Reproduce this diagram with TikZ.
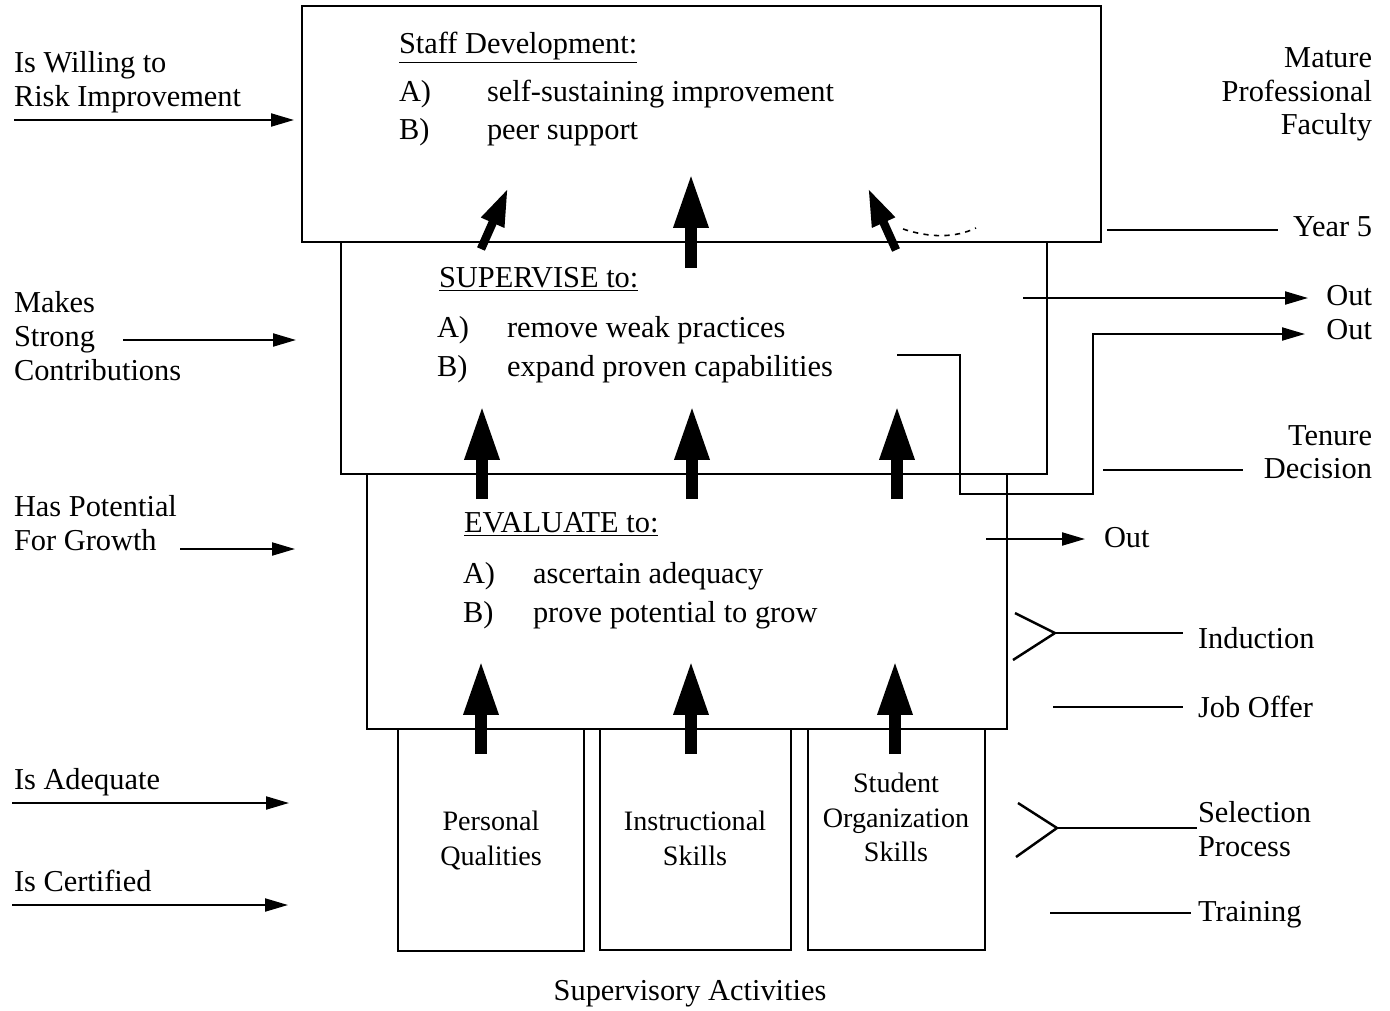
\documentclass[tikz,border=0pt]{standalone}
\usepackage{fontspec}
\setmainfont{Liberation Serif}
\usetikzlibrary{arrows.meta,fit}
\begin{document}
\begin{tikzpicture}[x=0.02cm,y=-0.02cm,
  txt/.style={font=\fontsize{17.3}{20}\selectfont, inner sep=0pt, outer sep=0pt},
  btxt/.style={font=\fontsize{16}{19}\selectfont, inner sep=0pt, outer sep=0pt},
  box/.style={draw, line width=0.8pt, inner sep=0pt, outer sep=0pt},
  bigarrow/.style={line width=0.24cm, -{Triangle[length=1.1cm,width=0.64cm]}},
  slantarrow/.style={line width=0.17cm, -{Triangle[length=0.76cm,width=0.46cm]}},
  thinarrow/.style={line width=1.2pt, -{Triangle[length=0.46cm,width=0.26cm]}},
  link/.style={line width=1.1pt},
  fork/.style={line width=1.4pt},
]
\useasboundingbox (0,0) rectangle (1390,1011);

% boxes
\node[box, fit={(302,6)(1101,242)}] (staff) {};
\node[box, fit={(341,242)(1047,474)}] (superv) {};
\node[box, fit={(367,474)(1007,729)}] (eval) {};
\node[box, fit={(398,729)(584,951)}] (pers) {};
\node[box, fit={(600,729)(791,950)}] (instr) {};
\node[box, fit={(808,729)(985,950)}] (stud) {};

% box texts
\node[txt, anchor=base west] (sdtitle) at (399,53) {\underline{Staff Development:}};
\node[txt, anchor=base west] (sda) at (399,101) {A)};
\node[txt, anchor=base west] (sdat) at (487,101) {self-sustaining improvement};
\node[txt, anchor=base west] (sdb) at (399,139) {B)};
\node[txt, anchor=base west] (sdbt) at (487,139) {peer support};

\node[txt, anchor=base west] (svtitle) at (439,287) {\underline{SUPERVISE to:}};
\node[txt, anchor=base west] (sva) at (437,337) {A)};
\node[txt, anchor=base west] (svat) at (507,337) {remove weak practices};
\node[txt, anchor=base west] (svb) at (437,376) {B)};
\node[txt, anchor=base west] (svbt) at (507,376) {expand proven capabilities};

\node[txt, anchor=base west] (evtitle) at (464,532) {\underline{EVALUATE to:}};
\node[txt, anchor=base west] (eva) at (463,583) {A)};
\node[txt, anchor=base west] (evat) at (533,583) {ascertain adequacy};
\node[txt, anchor=base west] (evb) at (463,622) {B)};
\node[txt, anchor=base west] (evbt) at (533,622) {prove potential to grow};

\node[btxt, anchor=base] (pers1) at (491,830) {Personal};
\node[btxt, anchor=base] (pers2) at (491,865) {Qualities};
\node[btxt, anchor=base] (instr1) at (695,830) {Instructional};
\node[btxt, anchor=base] (instr2) at (695,865) {Skills};
\node[btxt, anchor=base] (stud1) at (896,792) {Student};
\node[btxt, anchor=base] (stud2) at (896,827) {Organization};
\node[btxt, anchor=base] (stud3) at (896,861) {Skills};
\node[txt, anchor=base] (supact) at (690,1000) {Supervisory Activities};

% thick arrows
\coordinate (s1a) at (481,249); \coordinate (s1b) at (508,188);
\coordinate (s2a) at (691,268); \coordinate (s2b) at (691,173);
\coordinate (s3a) at (896,250); \coordinate (s3b) at (868,188);
\draw[slantarrow] (s1a) -- (s1b);
\draw[bigarrow] (s2a) -- (s2b);
\draw[slantarrow] (s3a) -- (s3b);
\foreach \x [count=\i] in {482,692,897}{
  \coordinate (v\i a) at (\x,499); \coordinate (v\i b) at (\x,405);
  \draw[bigarrow] (v\i a) -- (v\i b);
}
\foreach \x [count=\i] in {481,691,895}{
  \coordinate (e\i a) at (\x,754); \coordinate (e\i b) at (\x,660);
  \draw[bigarrow] (e\i a) -- (e\i b);
}
\draw[dashed, line width=0.9pt] (903,229) .. controls (930,238) and (955,238) .. (976,228);

% left side
\node[txt, anchor=base west] (lw1) at (14,72) {Is Willing to};
\node[txt, anchor=base west] (lw2) at (14,106) {Risk Improvement};
\node[txt, anchor=base west] (lm1) at (14,312) {Makes};
\node[txt, anchor=base west] (lm2) at (14,346) {Strong};
\node[txt, anchor=base west] (lm3) at (14,380) {Contributions};
\node[txt, anchor=base west] (lh1) at (14,516) {Has Potential};
\node[txt, anchor=base west] (lh2) at (14,550) {For Growth};
\node[txt, anchor=base west] (la1) at (14,789) {Is Adequate};
\node[txt, anchor=base west] (lc1) at (14,891) {Is Certified};

\coordinate (aw0) at (14,120); \coordinate (aw1) at (294,120);
\coordinate (am0) at (123,340); \coordinate (am1) at (296,340);
\coordinate (ah0) at (180,549); \coordinate (ah1) at (295,549);
\coordinate (aa0) at (12,803); \coordinate (aa1) at (289,803);
\coordinate (ac0) at (12,905); \coordinate (ac1) at (288,905);
\draw[thinarrow] (aw0) -- (aw1);
\draw[thinarrow] (am0) -- (am1);
\draw[thinarrow] (ah0) -- (ah1);
\draw[thinarrow] (aa0) -- (aa1);
\draw[thinarrow] (ac0) -- (ac1);

% right side
\node[txt, anchor=base east] (rm1) at (1372,67) {Mature};
\node[txt, anchor=base east] (rm2) at (1372,101) {Professional};
\node[txt, anchor=base east] (rm3) at (1372,134) {Faculty};
\node[txt, anchor=base east] (ry5) at (1372,236) {Year 5};
\node[txt, anchor=base east] (rout1) at (1372,305) {Out};
\node[txt, anchor=base east] (rout2) at (1372,339) {Out};
\node[txt, anchor=base east] (rt1) at (1372,445) {Tenure};
\node[txt, anchor=base east] (rt2) at (1372,478) {Decision};
\node[txt, anchor=base west] (rout3) at (1104,547) {Out};
\node[txt, anchor=base west] (rind) at (1198,648) {Induction};
\node[txt, anchor=base west] (rjob) at (1198,717) {Job Offer};
\node[txt, anchor=base west] (rsel1) at (1198,822) {Selection};
\node[txt, anchor=base west] (rsel2) at (1198,856) {Process};
\node[txt, anchor=base west] (rtr) at (1198,921) {Training};

\coordinate (y5a) at (1107,230); \coordinate (y5b) at (1278,230);
\draw[link] (y5a) -- (y5b);
\coordinate (o1a) at (1023,298); \coordinate (o1b) at (1308,298);
\draw[thinarrow] (o1a) -- (o1b);
\coordinate (o2a) at (897,355); \coordinate (o2b) at (1305,334);
\draw[thinarrow] (o2a) -- (960,355) -- (960,494) -- (1093,494) -- (1093,334) -- (o2b);
\coordinate (tda) at (1103,470); \coordinate (tdb) at (1243,470);
\draw[link] (tda) -- (tdb);
\coordinate (o3a) at (986,539); \coordinate (o3b) at (1085,539);
\draw[thinarrow] (o3a) -- (o3b);
\coordinate (inv) at (1055,633); \coordinate (ine) at (1183,633);
\draw[fork] (1015,613) -- (inv) -- (1013,660);
\draw[fork] (inv) -- (ine);
\coordinate (joa) at (1053,707); \coordinate (job) at (1183,707);
\draw[link] (joa) -- (job);
\coordinate (sev) at (1057,828); \coordinate (see) at (1197,828);
\draw[fork] (1018,803) -- (sev) -- (1016,857);
\draw[fork] (sev) -- (see);
\coordinate (tra) at (1050,913); \coordinate (trb) at (1191,913);
\draw[link] (tra) -- (trb);
\end{tikzpicture}
\end{document}
